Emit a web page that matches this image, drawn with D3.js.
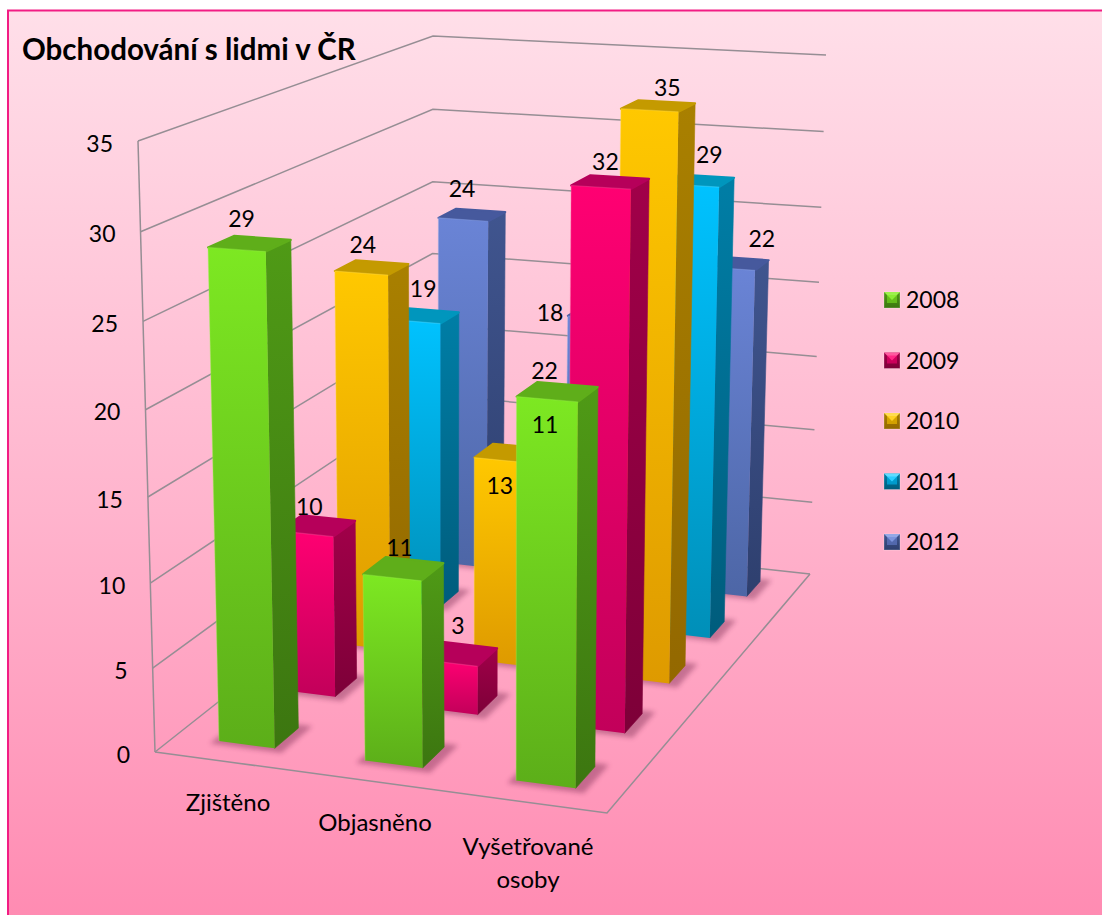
<!DOCTYPE html>
<html><head><meta charset="utf-8">
<script src="https://cdn.jsdelivr.net/npm/d3@7/dist/d3.min.js"></script>
<style>html,body{margin:0;padding:0;background:#fff}svg{display:block}text{font-family:Lato,sans-serif;fill:#000}</style>
</head><body><svg id="c" width="1102" height="915"></svg>
<script>
const title = "Obchodování s lidmi v ČR";
const categories = ["Zjištěno", "Objasněno", "Vyšetřované osoby"];
const years = ["2008", "2009", "2010", "2011", "2012"];
const v2008 = [29, 11, 22];
const v2009 = [10, 3, 32];
const v2010 = [24, 13, 35];
const v2011 = [19, 11, 29];
const v2012 = [24, 18, 22];
const valueTicks = [0, 5, 10, 15, 20, 25, 30, 35];
const seriesValues = [v2008, v2009, v2010, v2011, v2012];
const palette = [
 {f1:"#7de822",f2:"#5cae19",s1:"#4f9a16",s2:"#3c7610",t:"#5fae1a",h:"#9cf04c"},
 {f1:"#ff0072",f2:"#c2005a",s1:"#a10049",s2:"#7d0038",t:"#b6005a",h:"#ff5aa0"},
 {f1:"#ffc800",f2:"#de9a00",s1:"#a98000",s2:"#936800",t:"#c49a00",h:"#ffdc50"},
 {f1:"#00c2ff",f2:"#008fb8",s1:"#007ea6",s2:"#005c7c",t:"#0096bd",h:"#60dcff"},
 {f1:"#6a84d6",f2:"#4d66a6",s1:"#40558f",s2:"#2e3f6e",t:"#46599d",h:"#93a8e6"}
];
// where each value label sits relative to its bar top: [dx, dy] by series, then category
const labelNudge = [
 [[-8,5],[-4,6],[-13,7]],
 [[-8,7],[-2,-2],[-5,9]],
 [[-9,6],[-11,59],[9,12]],
 [[-1,0],[-12,3],[10,3]],
 [[-10,2],[-51,28],[26,3]]
];

const P = {
 "000":[155,752],"100":[607,813],"010":[432,533],"110":[810,574],
 "001":[138,141],"101":[612,169],"011":[433,36],"111":[826,55]
};
const W = (u,s,v) => 1 - 0.05*u + 0.25*s - 0.045*v;
function unit(u,s,v){
  let x=0,y=0;
  for(const i of [0,1]) for(const j of [0,1]) for(const k of [0,1]){
    const b=(i?u:1-u)*(j?s:1-s)*(k?v:1-v), w=W(i,j,k), c=P[""+i+j+k];
    x+=b*w*c[0]; y+=b*w*c[1];
  }
  const d=W(u,s,v);
  return [x/d,y/d];
}
const cScale=d3.scaleBand().domain(categories).range([0,1]).paddingInner(0.615).paddingOuter(0.3);
const sScale=d3.scaleBand().domain(years).range([0,1]).paddingInner(0.62).paddingOuter(0.31);
const vScale=d3.scaleLinear().domain([0,35]).range([0,1]);
const barScale=d3.scaleLinear().domain([0,35]).range([0,0.992]);

const svg=d3.select("#c");
const defs=svg.append("defs");
const bg=defs.append("linearGradient").attr("id","bg").attr("x1",0).attr("y1",0).attr("x2",0).attr("y2",1);
bg.append("stop").attr("offset",0).attr("stop-color","#ffdfe9");
bg.append("stop").attr("offset",0.5).attr("stop-color","#ffb4cd");
bg.append("stop").attr("offset",1).attr("stop-color","#ff82ac");
defs.append("filter").attr("id","blur").attr("x","-50%").attr("y","-50%").attr("width","200%").attr("height","200%")
  .append("feGaussianBlur").attr("stdDeviation",2.5);
palette.forEach((p,i)=>{
  const g1=defs.append("linearGradient").attr("id","f"+i).attr("x1",0).attr("y1",0).attr("x2",0).attr("y2",1);
  g1.append("stop").attr("offset",0).attr("stop-color",p.f1);
  g1.append("stop").attr("offset",1).attr("stop-color",p.f2);
  const g2=defs.append("linearGradient").attr("id","s"+i).attr("x1",0).attr("y1",0).attr("x2",0).attr("y2",1);
  g2.append("stop").attr("offset",0).attr("stop-color",p.s1);
  g2.append("stop").attr("offset",1).attr("stop-color",p.s2);
});
svg.append("rect").attr("x",8).attr("y",10.5).attr("width",1200).attr("height",1000)
  .attr("fill","url(#bg)").attr("stroke","#f21c84").attr("stroke-width",2);

const line=d3.line();
const grid=svg.append("g").attr("fill","none").attr("stroke","#968e94").attr("stroke-width",1.5);
valueTicks.forEach(t=>{
  const v=vScale(t);
  grid.append("path").attr("d",line([unit(0,0,v),unit(0,1,v),unit(1,1,v)]));
});
grid.append("path").attr("d",line([unit(0,0,0),unit(0,0,1)]));
grid.append("path").attr("d",line([unit(0,0,0),unit(1,0,0),unit(1,1,0)]));

const axisG=svg.append("g");
valueTicks.forEach(t=>{
  const p=unit(0,0,vScale(t));
  axisG.append("text").attr("x",p[0]-25).attr("y",p[1]+10.5).attr("text-anchor","end")
    .attr("font-size",23).text(t);
});

const barsG=svg.append("g");
const labels=[];
const poly=pts=>"M"+pts.map(p=>p.join(",")).join("L")+"Z";
d3.range(years.length-1,-1,-1).forEach(si=>{
  categories.forEach((cat,ci)=>{
    const val=seriesValues[si][ci];
    const u0=cScale(cat),u1=u0+cScale.bandwidth();
    const s0=sScale(years[si]),s1=s0+sScale.bandwidth();
    const v=barScale(val);
    const g=barsG.append("g");
    const du=0.012,ds=0.012;
    g.append("path").attr("d",poly([unit(u0-du,s0-ds,0),unit(u1+du*2,s0-ds,0),unit(u1+du*2,s1+ds,0),unit(u0-du,s1+ds,0)]))
      .attr("fill","#6a1c44").attr("opacity",0.38).attr("filter","url(#blur)");
    g.append("path").attr("d",poly([unit(u1,s0,0),unit(u1,s1,0),unit(u1,s1,v),unit(u1,s0,v)]))
      .attr("fill",`url(#s${si})`).attr("stroke",`url(#s${si})`).attr("stroke-width",0.6);
    g.append("path").attr("d",poly([unit(u0,s0,v),unit(u1,s0,v),unit(u1,s1,v),unit(u0,s1,v)]))
      .attr("fill",palette[si].t).attr("stroke",palette[si].t).attr("stroke-width",2).attr("stroke-linejoin","round");
    g.append("path").attr("d",poly([unit(u0,s0,0),unit(u1,s0,0),unit(u1,s0,v),unit(u0,s0,v)]))
      .attr("fill",`url(#f${si})`);
    g.append("path").attr("d",line([unit(u0,s0,0),unit(u0,s0,v),unit(u1,s0,v)]))
      .attr("fill","none").attr("stroke",palette[si].h).attr("stroke-width",1.2).attr("opacity",0.35).attr("stroke-linejoin","round");
    const top=unit((u0+u1)/2,(s0+s1)/2,vScale(val));
    const n=labelNudge[si][ci];
    labels.push({text:val,x:top[0]+n[0],y:top[1]+n[1]});
  });
});

const labG=svg.append("g");
labels.forEach(d=>{
  labG.append("text").attr("x",d.x).attr("y",d.y-17).attr("text-anchor","middle").attr("font-size",23).text(d.text);
});

svg.append("text").attr("x",22).attr("y",60).attr("font-size",29.5).attr("font-weight",700).text(title);

[[228,811],[375,831],[528,855]].forEach((c,i)=>{
  const t=svg.append("text").attr("text-anchor","middle").attr("font-size",24);
  categories[i].split(" ").forEach((w,k)=>t.append("tspan").attr("x",c[0]).attr("y",c[1]+k*33).text(w));
});

const legendY=d3.scalePoint().domain(years).range([300,542]);
years.forEach((y,i)=>{
  const g=svg.append("g").attr("transform",`translate(884,${legendY(y)-8})`);
  const p=palette[i];
  g.append("rect").attr("width",16).attr("height",16).attr("fill",`url(#s${i})`).attr("stroke","#fff").attr("stroke-opacity",0.25);
  g.append("path").attr("d","M0,0H16L8,8Z").attr("fill",p.h);
  g.append("path").attr("d","M3,3H13V11H3Z").attr("fill",p.f1).attr("opacity",0.55);
  svg.append("text").attr("x",906).attr("y",legendY(y)+8).attr("font-size",23).text(y);
});
</script></body></html>
